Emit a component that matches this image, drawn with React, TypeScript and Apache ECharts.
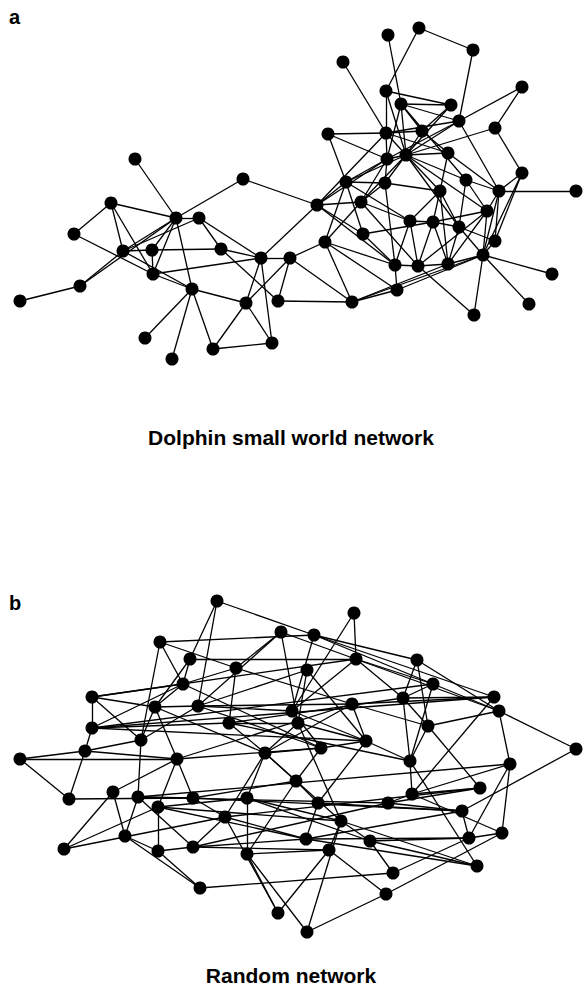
import React, { useEffect, useRef } from "react";
import * as echarts from "echarts";

// Dolphin network nodes: [id, x, y]
const dolphinNodes: [string, number, number][] = [
  ["A", 20, 301], ["B", 80, 286], ["C", 74, 234], ["D", 111, 203], ["E", 135, 159],
  ["F", 123, 251], ["G", 152, 250], ["H", 153, 274], ["I", 176, 218], ["J", 199, 218],
  ["K", 192, 289], ["L", 145, 338], ["M", 172, 359], ["N", 213, 349], ["O", 272, 343],
  ["P", 246, 303], ["Q", 221, 249], ["S", 261, 258], ["T", 290, 258], ["U", 278, 301],
  ["V", 243, 179], ["W", 317, 205], ["X", 361, 202], ["Y", 363, 234], ["Z", 325, 242],
  ["AA", 352, 302], ["AB", 346, 182], ["AC", 385, 183], ["AD", 387, 159], ["AE", 328, 134],
  ["AF", 386, 133], ["AG", 343, 62], ["AH", 388, 35], ["AI", 419, 28], ["AJ", 473, 50],
  ["AK", 522, 87], ["AL", 386, 91], ["AM", 401, 104], ["AN", 451, 105], ["AO", 459, 121],
  ["AP", 495, 128], ["AQ", 422, 131], ["AR", 406, 155], ["AS", 448, 153], ["AT", 466, 180],
  ["AU", 440, 191], ["AV", 499, 191], ["AW", 576, 191], ["AX", 522, 173], ["AY", 487, 211],
  ["AZ", 410, 221], ["BA", 433, 222], ["BB", 459, 227], ["BC", 495, 241], ["BD", 483, 255],
  ["BE", 448, 264], ["BF", 418, 266], ["BG", 395, 265], ["BH", 397, 290], ["BI", 552, 274],
  ["BJ", 529, 304], ["BK", 474, 315],
];

const dolphinLinks: [string, string][] = [
  ["E","I"],["D","I"],["D","C"],["D","F"],["D","H"],["C","H"],["F","I"],["F","J"],["F","G"],
  ["F","B"],["F","K"],["G","Q"],["G","I"],["G","H"],["H","I"],["H","K"],["H","S"],["B","A"],
  ["B","I"],["I","J"],["I","K"],["I","V"],["K","L"],["K","M"],["K","N"],["K","P"],["V","W"],
  ["W","S"],["W","AB"],["W","X"],["W","AD"],["W","AF"],["W","Y"],["W","BG"],["J","Q"],["J","S"],
  ["Q","S"],["Q","U"],["S","T"],["S","P"],["S","O"],["T","P"],["T","U"],["T","Z"],["T","AA"],
  ["P","N"],["P","O"],["N","O"],["Z","AB"],["Z","X"],["Z","AA"],["Z","BH"],["U","AA"],["AA","BH"],
  ["AA","BE"],["AA","BD"],["AE","AB"],["AE","AD"],["AE","AF"],["AG","AF"],["AH","AM"],["AI","AL"],
  ["AI","AJ"],["AJ","AO"],["AL","AN"],["AL","AF"],["AL","AR"],["AM","AN"],["AM","AO"],["AM","AR"],
  ["AM","AQ"],["AM","AD"],["AM","AT"],["AN","AR"],["AN","AQ"],["AO","AF"],["AO","AR"],["AO","AD"],
  ["AO","AK"],["AO","AV"],["AP","AK"],["AP","AX"],["AP","AR"],["AF","AQ"],["AF","AR"],["AF","AD"],
  ["AF","AS"],["AQ","AR"],["AQ","AS"],["AR","AS"],["AR","AT"],["AR","AD"],["AR","AC"],["AR","AB"],
  ["AR","AU"],["AR","BB"],["AR","AY"],["AS","AV"],["AS","AU"],["AT","AV"],["AT","AY"],["AT","BB"],
  ["AV","AW"],["AV","AX"],["AV","BC"],["AV","BD"],["AV","AY"],["AX","BC"],["AX","BD"],["AU","BE"],
  ["AU","AZ"],["AU","BA"],["AU","AC"],["AU","BB"],["AY","BD"],["AY","BE"],["AY","BA"],["BC","BD"],
  ["BD","BI"],["BD","BJ"],["BD","BK"],["BD","BE"],["BD","BB"],["BD","BH"],["BF","BK"],["BB","BE"],
  ["BB","BC"],["AB","AC"],["AB","AD"],["AB","Y"],["AB","AZ"],["X","AC"],["X","AD"],["X","AZ"],
  ["X","BF"],["Y","BA"],["Y","BG"],["Z","BG"],["AC","AD"],["AC","BG"],["AZ","BG"],["AZ","BF"],
  ["AZ","BA"],["BA","BB"],["BA","BF"],["BA","BE"],["BG","BF"],["BG","BH"],["BF","BE"],["BF","AY"],
  ["X","AR"],
];

// Random network nodes: [x, y], numbered from 1
const randomNodes: [number, number][] = [
  [217, 601], [354, 613], [160, 642], [281, 632], [314, 635], [190, 659], [356, 659], [417, 660],
  [236, 668], [307, 670], [183, 684], [433, 684], [92, 697], [494, 697], [403, 698], [155, 707],
  [198, 706], [292, 711], [352, 704], [499, 711], [229, 723], [298, 723], [428, 726], [92, 728],
  [141, 740], [366, 741], [321, 748], [576, 749], [85, 751], [20, 759], [177, 759], [265, 753],
  [410, 761], [510, 764], [296, 781], [480, 788], [113, 792], [69, 799], [138, 797], [193, 798],
  [247, 798], [318, 803], [388, 803], [412, 794], [158, 807], [462, 811], [225, 817], [341, 821],
  [125, 836], [306, 839], [370, 841], [502, 833], [469, 838], [64, 849], [193, 847], [158, 851],
  [247, 854], [329, 850], [477, 866], [393, 873], [200, 888], [386, 894], [278, 913], [307, 932],
];

const randomLinks: [number, number][] = [
  [1,5],[1,6],[1,17],[2,7],[2,18],[3,5],[3,25],[3,11],[3,9],[6,7],[6,16],[6,11],[4,9],[4,17],
  [4,22],[4,20],[5,8],[5,14],[5,18],[5,12],[7,18],[7,12],[7,15],[8,23],[8,20],[8,15],[9,21],
  [9,19],[9,11],[10,22],[10,17],[10,26],[11,16],[11,13],[11,24],[11,27],[12,15],[12,20],[12,33],
  [13,16],[13,24],[13,25],[14,44],[14,15],[14,19],[15,23],[15,33],[15,21],[16,17],[16,25],[16,31],
  [16,32],[17,18],[17,19],[17,27],[18,27],[18,26],[19,26],[19,23],[19,32],[20,28],[20,34],[20,23],
  [21,22],[21,32],[21,24],[21,33],[22,32],[22,26],[22,48],[23,36],[23,33],[24,29],[24,26],[25,17],
  [25,29],[25,39],[26,27],[26,42],[26,33],[27,32],[27,35],[27,31],[28,46],[29,30],[29,31],[29,38],
  [30,31],[30,38],[31,40],[31,37],[31,45],[31,19],[32,47],[32,35],[32,41],[32,48],[33,59],[33,44],
  [34,52],[34,53],[34,44],[34,39],[35,42],[35,57],[35,40],[36,44],[36,43],[36,47],[37,49],[37,54],
  [38,40],[39,49],[39,40],[39,55],[39,43],[40,47],[40,46],[41,57],[41,45],[41,48],[42,50],[42,46],
  [43,46],[43,44],[43,55],[44,52],[45,56],[45,54],[45,50],[46,53],[46,50],[47,55],[47,63],[47,50],
  [48,51],[48,64],[48,45],[49,56],[49,61],[50,55],[50,53],[50,59],[51,60],[51,53],[51,41],[52,62],
  [52,53],[53,60],[54,47],[55,56],[55,58],[56,61],[57,58],[57,63],[57,64],[58,63],[58,62],[58,48],
  [59,48],[59,51],[60,61],[62,64],[13,7],[24,12],[14,24],
];

const panelLabels = ["a", "b"];
const panelTitles = ["Dolphin small world network", "Random network"];

export default function App() {
  const ref = useRef<HTMLDivElement>(null);
  useEffect(() => {
    if (!ref.current) return;
    const chart = echarts.init(ref.current, undefined, { renderer: "svg" });
    const nodeStyle = { color: "#000" };
    const lineStyle = { color: "#000", width: 1.3, opacity: 1, curveness: 0 };
    const font = "'Liberation Sans', Arial, sans-serif";
    chart.setOption({
      animation: false,
      backgroundColor: "#fff",
      grid: { left: 0, right: 0, top: 0, bottom: 0 },
      xAxis: { type: "value", min: 0, max: 583, show: false },
      yAxis: { type: "value", min: 0, max: 1002, inverse: true, show: false },
      graphic: [
        { type: "text", left: 9, top: 7, style: { text: panelLabels[0], font: `bold 20px ${font}`, fill: "#000" } },
        { type: "text", left: 9, top: 593, style: { text: panelLabels[1], font: `bold 20px ${font}`, fill: "#000" } },
        { type: "text", x: 291, y: 437, style: { text: panelTitles[0], font: `bold 21px ${font}`, fill: "#000", textAlign: "center", textVerticalAlign: "middle" } },
        { type: "text", x: 291, y: 975, style: { text: panelTitles[1], font: `bold 21px ${font}`, fill: "#000", textAlign: "center", textVerticalAlign: "middle" } },
      ],
      series: [
        {
          type: "graph",
          coordinateSystem: "cartesian2d",
          silent: true,
          symbolSize: 13,
          itemStyle: nodeStyle,
          lineStyle,
          label: { show: false },
          data: dolphinNodes.map(([name, x, y]) => ({ name, value: [x, y] })),
          links: dolphinLinks.map(([s, t]) => ({ source: s, target: t })),
        },
        {
          type: "graph",
          coordinateSystem: "cartesian2d",
          silent: true,
          symbolSize: 13,
          itemStyle: nodeStyle,
          lineStyle,
          label: { show: false },
          data: randomNodes.map(([x, y], i) => ({ name: "r" + (i + 1), value: [x, y] })),
          links: randomLinks.map(([s, t]) => ({ source: "r" + s, target: "r" + t })),
        },
      ],
    });
    return () => chart.dispose();
  }, []);
  return (
    <div
      ref={ref}
      style={{ position: "absolute", left: 0, top: 0, width: 583, height: 1002 }}
    />
  );
}
